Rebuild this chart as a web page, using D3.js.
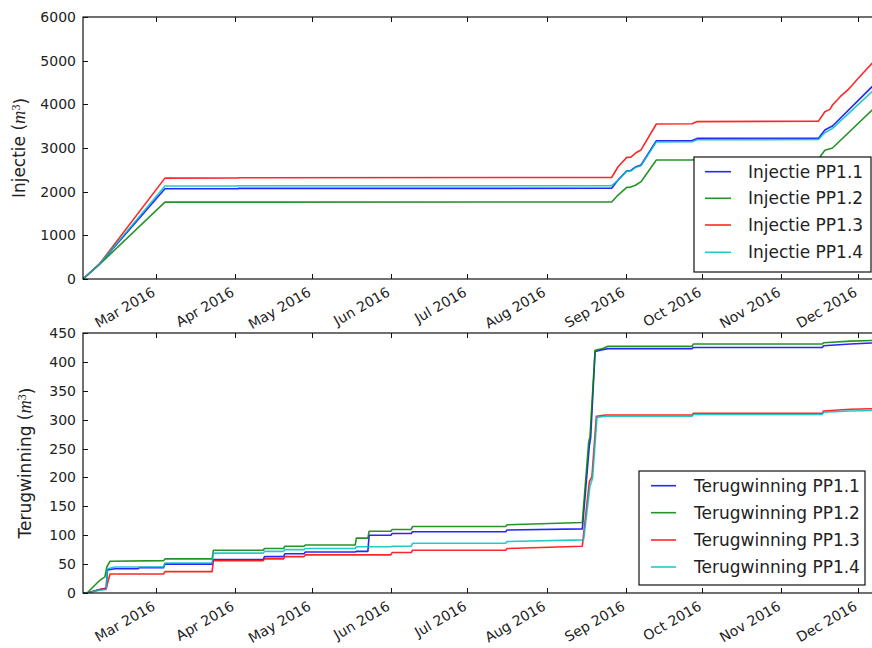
<!DOCTYPE html>
<html>
<head>
<meta charset="utf-8">
<script src="https://cdn.jsdelivr.net/npm/d3@7"></script>
<style>
  body { margin: 0; background: #fff; }
  text { font-family: "DejaVu Sans", sans-serif; fill: #222; }
</style>
</head>
<body>
<svg id="chart" width="872" height="648"></svg>
<script>
// ---- month ticks shared by both panels ----
const tickDates = ["2016-03-01", "2016-04-01", "2016-05-01", "2016-06-01", "2016-07-01",
                   "2016-08-01", "2016-09-01", "2016-10-01", "2016-11-01", "2016-12-01"];
const tickLabels = ["Mar 2016", "Apr 2016", "May 2016", "Jun 2016", "Jul 2016",
                    "Aug 2016", "Sep 2016", "Oct 2016", "Nov 2016", "Dec 2016"];
const timeDomain = ["2016-02-01 10", "2016-12-09 05"];

// ---- cumulative injection volumes (m3) ----
const injectieTicks = [0, 1000, 2000, 3000, 4000, 5000, 6000];
const injectieNames = ["Injectie PP1.1", "Injectie PP1.2", "Injectie PP1.3", "Injectie PP1.4"];
const injectiePP11 = [
  ["2016-02-01 10", 0], ["2016-02-08", 350], ["2016-03-04 12", 2068], ["2016-04-02", 2070],
  ["2016-04-02 12", 2075], ["2016-08-26 12", 2077], ["2016-08-29", 2267], ["2016-09-01 10", 2480],
  ["2016-09-03", 2485], ["2016-09-05", 2572], ["2016-09-07", 2610], ["2016-09-13", 3167],
  ["2016-09-27", 3170], ["2016-09-29", 3220], ["2016-11-15 12", 3225], ["2016-11-18", 3412],
  ["2016-11-20", 3474], ["2016-11-21", 3503], ["2016-12-06 12", 4404], ["2016-12-07 12", 4465]
];
const injectiePP12 = [
  ["2016-02-01 10", 0], ["2016-02-08", 340], ["2016-03-04 12", 1760], ["2016-08-26 12", 1765],
  ["2016-08-29", 1923], ["2016-09-01 10", 2099], ["2016-09-03", 2105], ["2016-09-05", 2152],
  ["2016-09-07", 2229], ["2016-09-13", 2725], ["2016-09-27", 2728], ["2016-09-29", 2740],
  ["2016-11-15 12", 2750], ["2016-11-18", 2950], ["2016-11-21", 3000], ["2016-12-06 12", 3870],
  ["2016-12-07 12", 3930]
];
const injectiePP13 = [
  ["2016-02-01 10", 0], ["2016-02-08", 355], ["2016-03-04 12", 2310], ["2016-04-02", 2312],
  ["2016-04-02 12", 2320], ["2016-08-26 12", 2325], ["2016-08-29", 2570], ["2016-09-01 10", 2785],
  ["2016-09-03", 2790], ["2016-09-05", 2890], ["2016-09-07", 2955], ["2016-09-13", 3550],
  ["2016-09-27", 3555], ["2016-09-29", 3605], ["2016-11-15 12", 3615], ["2016-11-18", 3830],
  ["2016-11-20", 3885], ["2016-11-21", 3985], ["2016-11-24", 4175], ["2016-11-27", 4330],
  ["2016-12-01", 4590], ["2016-12-06 12", 4940], ["2016-12-07 12", 5010]
];
const injectiePP14 = [
  ["2016-02-01 10", 0], ["2016-02-08", 350], ["2016-03-04 12", 2130], ["2016-04-02", 2132],
  ["2016-04-02 12", 2134], ["2016-08-26 12", 2136], ["2016-08-29", 2260], ["2016-09-01 10", 2470],
  ["2016-09-03", 2475], ["2016-09-05", 2560], ["2016-09-07", 2595], ["2016-09-13", 3140],
  ["2016-09-27", 3143], ["2016-09-29", 3190], ["2016-11-15 12", 3195], ["2016-11-18", 3350],
  ["2016-11-21", 3450], ["2016-12-06 12", 4290], ["2016-12-07 12", 4350]
];

// ---- cumulative recovered volumes (m3) ----
const terugTicks = [0, 50, 100, 150, 200, 250, 300, 350, 400, 450];
const terugNames = ["Terugwinning PP1.1", "Terugwinning PP1.2", "Terugwinning PP1.3", "Terugwinning PP1.4"];
const terugPP11 = [
  ["2016-02-01 10", 0], ["2016-02-03", 0], ["2016-02-08", 6], ["2016-02-10 12", 8], ["2016-02-11", 40],
  ["2016-02-14", 42], ["2016-02-23", 42], ["2016-02-23 12", 44], ["2016-03-04", 44], ["2016-03-04 12", 50],
  ["2016-03-23", 50], ["2016-03-23 12", 58], ["2016-04-12", 58], ["2016-04-12 12", 63],
  ["2016-04-20", 63], ["2016-04-20 12", 68], ["2016-04-28", 68], ["2016-04-28 12", 71],
  ["2016-05-18", 71], ["2016-05-18 12", 72], ["2016-05-23", 72], ["2016-05-23 12", 100],
  ["2016-06-01", 100], ["2016-06-01 12", 103], ["2016-06-09", 103], ["2016-06-09 12", 106],
  ["2016-07-16", 106], ["2016-07-16 12", 109], ["2016-08-15", 111], ["2016-08-17 18", 255],
  ["2016-08-18 06", 268], ["2016-08-20", 418], ["2016-08-23", 421], ["2016-08-25", 423],
  ["2016-09-27", 423], ["2016-09-27 12", 425], ["2016-11-17", 425], ["2016-11-17 12", 428],
  ["2016-11-28", 431], ["2016-12-07 12", 433]
];
const terugPP12 = [
  ["2016-02-01 10", 0], ["2016-02-03", 0], ["2016-02-08", 22], ["2016-02-10", 28], ["2016-02-10 18", 45],
  ["2016-02-12", 55], ["2016-03-04", 56], ["2016-03-04 12", 59], ["2016-03-23", 59], ["2016-03-23 12", 74],
  ["2016-04-12", 74], ["2016-04-12 12", 77], ["2016-04-20", 77], ["2016-04-20 12", 81],
  ["2016-04-28", 81], ["2016-04-28 12", 83], ["2016-05-18", 83], ["2016-05-18 12", 95],
  ["2016-05-23", 95], ["2016-05-23 12", 107], ["2016-06-01", 107], ["2016-06-01 12", 110],
  ["2016-06-09", 110], ["2016-06-09 12", 115], ["2016-07-16", 115], ["2016-07-16 12", 118],
  ["2016-08-15", 122], ["2016-08-17 12", 262], ["2016-08-18", 270], ["2016-08-20", 420],
  ["2016-08-23", 423], ["2016-08-25", 427], ["2016-09-27", 427], ["2016-09-27 12", 431],
  ["2016-11-17", 431], ["2016-11-17 12", 433], ["2016-11-28", 436], ["2016-12-07 12", 437]
];
const terugPP13 = [
  ["2016-02-01 10", 0], ["2016-02-03", 0], ["2016-02-08", 6], ["2016-02-10 12", 8], ["2016-02-12", 33],
  ["2016-03-04", 33], ["2016-03-04 12", 37], ["2016-03-23", 37], ["2016-03-23 12", 56],
  ["2016-04-12", 56], ["2016-04-12 12", 59], ["2016-04-20", 59], ["2016-04-20 12", 63],
  ["2016-04-28", 63], ["2016-04-28 12", 66], ["2016-06-01", 66], ["2016-06-01 12", 70],
  ["2016-06-09", 70], ["2016-06-09 12", 74], ["2016-07-16", 74], ["2016-07-16 12", 77],
  ["2016-08-15", 81], ["2016-08-17 18", 193], ["2016-08-18 18", 201], ["2016-08-20 12", 306],
  ["2016-08-24", 308], ["2016-09-27", 308], ["2016-09-27 12", 311], ["2016-11-17", 311],
  ["2016-11-17 12", 315], ["2016-11-28", 318], ["2016-12-07 12", 319]
];
const terugPP14 = [
  ["2016-02-01 10", 0], ["2016-02-03", 0], ["2016-02-08", 5], ["2016-02-10 12", 6], ["2016-02-11", 42],
  ["2016-02-14", 45], ["2016-03-04", 45], ["2016-03-04 12", 52], ["2016-03-23", 52], ["2016-03-23 12", 69],
  ["2016-04-12", 69], ["2016-04-12 12", 72], ["2016-04-20", 72], ["2016-04-20 12", 75],
  ["2016-04-28", 75], ["2016-04-28 12", 77], ["2016-05-18", 77], ["2016-05-18 12", 80],
  ["2016-06-01", 80], ["2016-06-01 12", 81], ["2016-06-09", 81], ["2016-06-09 12", 86],
  ["2016-07-16", 86], ["2016-07-16 12", 89], ["2016-08-15 12", 92], ["2016-08-18", 185],
  ["2016-08-19", 198], ["2016-08-20 18", 304], ["2016-08-24", 306], ["2016-09-27", 306],
  ["2016-09-27 12", 309], ["2016-11-17", 309], ["2016-11-17 12", 313], ["2016-11-28", 315],
  ["2016-12-07 12", 316]
];

const seriesColors = ["#0000ff", "#008000", "#ff0000", "#00bfbf"];

// ---- helpers ----
const parseDay = d3.timeParse("%Y-%m-%d");
const parseHour = d3.timeParse("%Y-%m-%d %H");
const parseDate = s => (s.length > 10 ? parseHour(s) : parseDay(s));

const svg = d3.select("#chart");
const plotLeft = 83, plotRight = 879;

const x = d3.scaleTime()
  .domain(timeDomain.map(parseDate))
  .range([plotLeft, plotRight]);

function drawPanel(cfg) {
  const { top, bottom, yMax, yTicks, series, names, yLabel, legend, clipId } = cfg;
  const y = d3.scaleLinear().domain([0, yMax]).range([bottom, top]);
  const g = svg.append("g");

  g.append("clipPath").attr("id", clipId)
    .append("rect").attr("x", plotLeft).attr("y", top)
    .attr("width", plotRight - plotLeft).attr("height", bottom - top);

  // series lines
  const line = d3.line().x(d => x(parseDate(d[0]))).y(d => y(d[1]));
  const lines = g.append("g").attr("clip-path", `url(#${clipId})`);
  series.forEach((s, i) => {
    lines.append("path").datum(s)
      .attr("d", line)
      .attr("fill", "none")
      .attr("stroke", seriesColors[i])
      .attr("stroke-width", 1.6)
      .attr("stroke-linejoin", "round")
      .attr("stroke-opacity", 0.85);
  });

  // frame
  const frame = g.append("g").attr("stroke", "#111").attr("stroke-width", 1.2).attr("fill", "none");
  frame.append("rect").attr("x", plotLeft).attr("y", top)
    .attr("width", plotRight - plotLeft).attr("height", bottom - top);

  // x ticks (inward, on bottom and top spines)
  const months = tickDates.map(parseDate);
  const tickG = g.append("g").attr("stroke", "#111").attr("stroke-width", 1);
  months.forEach(m => {
    const px = Math.round(x(m)) + 0.5;
    tickG.append("line").attr("x1", px).attr("x2", px).attr("y1", bottom).attr("y2", bottom - 5);
    tickG.append("line").attr("x1", px).attr("x2", px).attr("y1", top).attr("y2", top + 5);
  });
  // y ticks (inward on left spine)
  yTicks.forEach(v => {
    const py = Math.round(y(v)) + 0.5;
    tickG.append("line").attr("x1", plotLeft).attr("x2", plotLeft + 5).attr("y1", py).attr("y2", py);
  });

  // x tick labels, rotated
  months.forEach((m, i) => {
    g.append("text")
      .attr("transform", `translate(${x(m) - 5},${bottom + 7}) rotate(-30)`)
      .attr("text-anchor", "end")
      .attr("dy", "0.74em")
      .style("font-size", "14px")
      .text(tickLabels[i]);
  });
  // y tick labels
  yTicks.forEach(v => {
    g.append("text")
      .attr("x", plotLeft - 7).attr("y", y(v))
      .attr("dy", "0.36em")
      .attr("text-anchor", "end")
      .style("font-size", "14px")
      .text(v);
  });

  // y axis label with math-style unit
  const lab = g.append("text")
    .attr("transform", `translate(${yLabel.x},${(top + bottom) / 2}) rotate(-90)`)
    .attr("text-anchor", "middle")
    .style("font-size", "17px");
  lab.append("tspan").text(yLabel.text + " (");
  lab.append("tspan").style("font-family", "'Liberation Serif', serif").style("font-style", "italic")
    .style("font-size", "18.5px").text("m");
  lab.append("tspan").attr("dy", "-0.45em").style("font-family", "'Liberation Serif', serif")
    .style("font-size", "12px").text("3");
  lab.append("tspan").attr("dy", "0.45em").text(")");

  // legend
  const lg = g.append("g");
  lg.append("rect").attr("x", legend.x).attr("y", legend.y)
    .attr("width", legend.w).attr("height", legend.h)
    .attr("fill", "#fff").attr("stroke", "#111").attr("stroke-width", 1.2);
  names.forEach((n, i) => {
    const cy = legend.rowY[i];
    lg.append("line").attr("x1", legend.lineX[0]).attr("x2", legend.lineX[1])
      .attr("y1", cy).attr("y2", cy)
      .attr("stroke", seriesColors[i]).attr("stroke-width", 1.6).attr("stroke-opacity", 0.85);
    lg.append("text").attr("x", legend.textX).attr("y", cy).attr("dy", "0.36em")
      .style("font-size", "17px").text(n);
  });
}

drawPanel({
  top: 17, bottom: 279, yMax: 6000, yTicks: injectieTicks,
  series: [injectiePP11, injectiePP12, injectiePP13, injectiePP14],
  names: injectieNames,
  yLabel: { text: "Injectie", x: 25 },
  legend: { x: 694, y: 157, w: 177, h: 115, rowY: [171.7, 198.3, 225, 252.3], lineX: [705, 731], textX: 748 },
  clipId: "clipTop"
});

drawPanel({
  top: 333, bottom: 593, yMax: 450, yTicks: terugTicks,
  series: [terugPP11, terugPP12, terugPP13, terugPP14],
  names: terugNames,
  yLabel: { text: "Terugwinning", x: 31 },
  legend: { x: 639, y: 471, w: 226, h: 114, rowY: [485.7, 512.7, 540, 567], lineX: [651, 676], textX: 694 },
  clipId: "clipBottom"
});
</script>
</body>
</html>
